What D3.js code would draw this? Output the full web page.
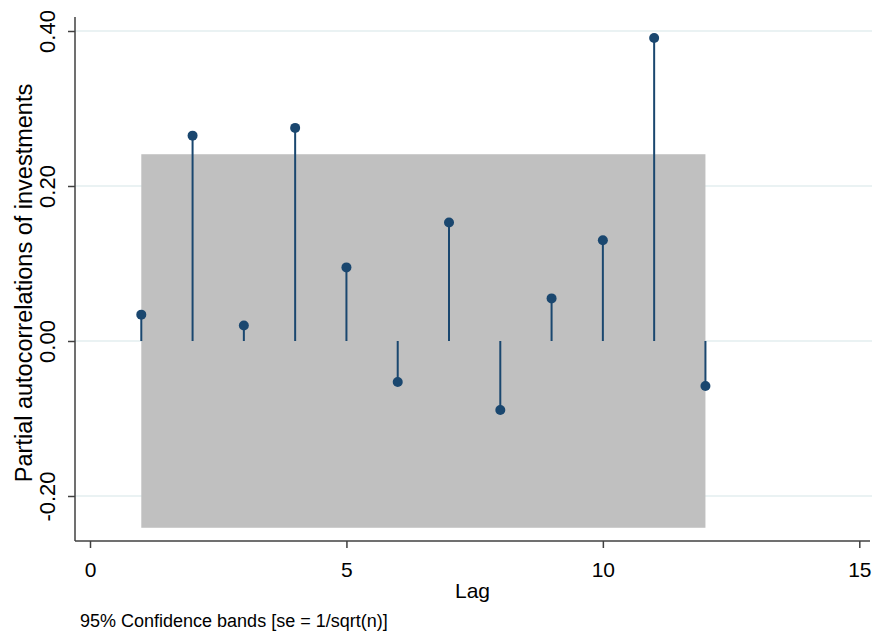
<!DOCTYPE html>
<html>
<head>
<meta charset="utf-8">
<script src="https://cdn.jsdelivr.net/npm/d3@7"></script>
<style>
  body { margin: 0; background: #fff; }
  text { font-family: "Liberation Sans", Arial, sans-serif; fill: #000; }
</style>
</head>
<body>
<div id="chart"></div>
<script>
// lags and partial autocorrelations
const lags = [1, 2, 3, 4, 5, 6, 7, 8, 9, 10, 11, 12];
const pac = [0.034, 0.265, 0.020, 0.275, 0.095, -0.053, 0.153, -0.089, 0.055, 0.130, 0.391, -0.058];
const bandLimit = 0.241; // 95% band, se = 1/sqrt(n)
const xTicks = [0, 5, 10, 15];
const yTicks = [-0.2, 0, 0.2, 0.4];

const width = 872, height = 633;
// plot box (axis lines)
const boxLeft = 75, boxRight = 870, boxTop = 17, boxBottom = 541;

const svg = d3.select("#chart").append("svg")
  .attr("width", width)
  .attr("height", height);

const x = d3.scaleLinear().domain([0, 15]).range([90, 859.3]);
const y = d3.scaleLinear().domain([-0.2, 0.4]).range([496, 31]);

// grid lines
svg.append("g").selectAll("line")
  .data(yTicks)
  .enter().append("line")
  .attr("x1", boxLeft).attr("x2", width)
  .attr("y1", d => y(d)).attr("y2", d => y(d))
  .attr("stroke", "#eaf2f3")
  .attr("stroke-width", 2);

// confidence band
svg.append("rect")
  .attr("x", x(lags[0]))
  .attr("y", y(bandLimit))
  .attr("width", x(lags[lags.length - 1]) - x(lags[0]))
  .attr("height", y(-bandLimit) - y(bandLimit))
  .attr("fill", "#c0c0c0");

// stems
svg.append("g").selectAll("line")
  .data(lags)
  .enter().append("line")
  .attr("x1", d => x(d)).attr("x2", d => x(d))
  .attr("y1", y(0))
  .attr("y2", (d, i) => y(pac[i]))
  .attr("stroke", "#1a476f")
  .attr("stroke-width", 2);

// dots
svg.append("g").selectAll("circle")
  .data(lags)
  .enter().append("circle")
  .attr("cx", d => x(d))
  .attr("cy", (d, i) => y(pac[i]))
  .attr("r", 5)
  .attr("fill", "#1a476f");

// y axis, labels turned like stata does
const yAxis = svg.append("g")
  .attr("transform", `translate(${boxLeft},0)`)
  .call(d3.axisLeft(y).tickValues(yTicks).tickFormat(d => d3.format(".2f")(d).replace("\u2212", "-")).tickSize(7).tickSizeOuter(0));
yAxis.select(".domain").remove();
yAxis.append("line")
  .attr("x1", 0).attr("x2", 0).attr("y1", boxTop).attr("y2", boxBottom)
  .attr("stroke", "#404040").attr("stroke-width", 1.5);
yAxis.selectAll(".tick line").attr("stroke", "#404040").attr("stroke-width", 1.5);
yAxis.selectAll(".tick text")
  .attr("font-size", 22)
  .attr("text-anchor", "middle")
  .attr("transform", "rotate(-90)")
  .attr("x", 0)
  .attr("y", -20)
  .attr("dy", 0);

// x axis
const xAxis = svg.append("g")
  .attr("transform", `translate(0,${boxBottom})`)
  .call(d3.axisBottom(x).tickValues(xTicks).tickSize(7).tickSizeOuter(0).tickPadding(8));
xAxis.select(".domain").remove();
xAxis.append("line")
  .attr("x1", boxLeft).attr("x2", boxRight).attr("y1", 0).attr("y2", 0)
  .attr("stroke", "#404040").attr("stroke-width", 1.5);
xAxis.selectAll(".tick line").attr("stroke", "#404040").attr("stroke-width", 1.5);
xAxis.selectAll(".tick text").attr("font-size", 21).attr("dy", "1em");

// titles
svg.append("text")
  .attr("transform", `translate(32,283) rotate(-90)`)
  .attr("text-anchor", "middle")
  .attr("font-size", 23.5)
  .text("Partial autocorrelations of investments");

svg.append("text")
  .attr("x", (boxLeft + boxRight) / 2)
  .attr("y", 598)
  .attr("text-anchor", "middle")
  .attr("font-size", 21)
  .text("Lag");

svg.append("text")
  .attr("x", 80)
  .attr("y", 627)
  .attr("font-size", 18)
  .text("95% Confidence bands [se = 1/sqrt(n)]");
</script>
</body>
</html>
